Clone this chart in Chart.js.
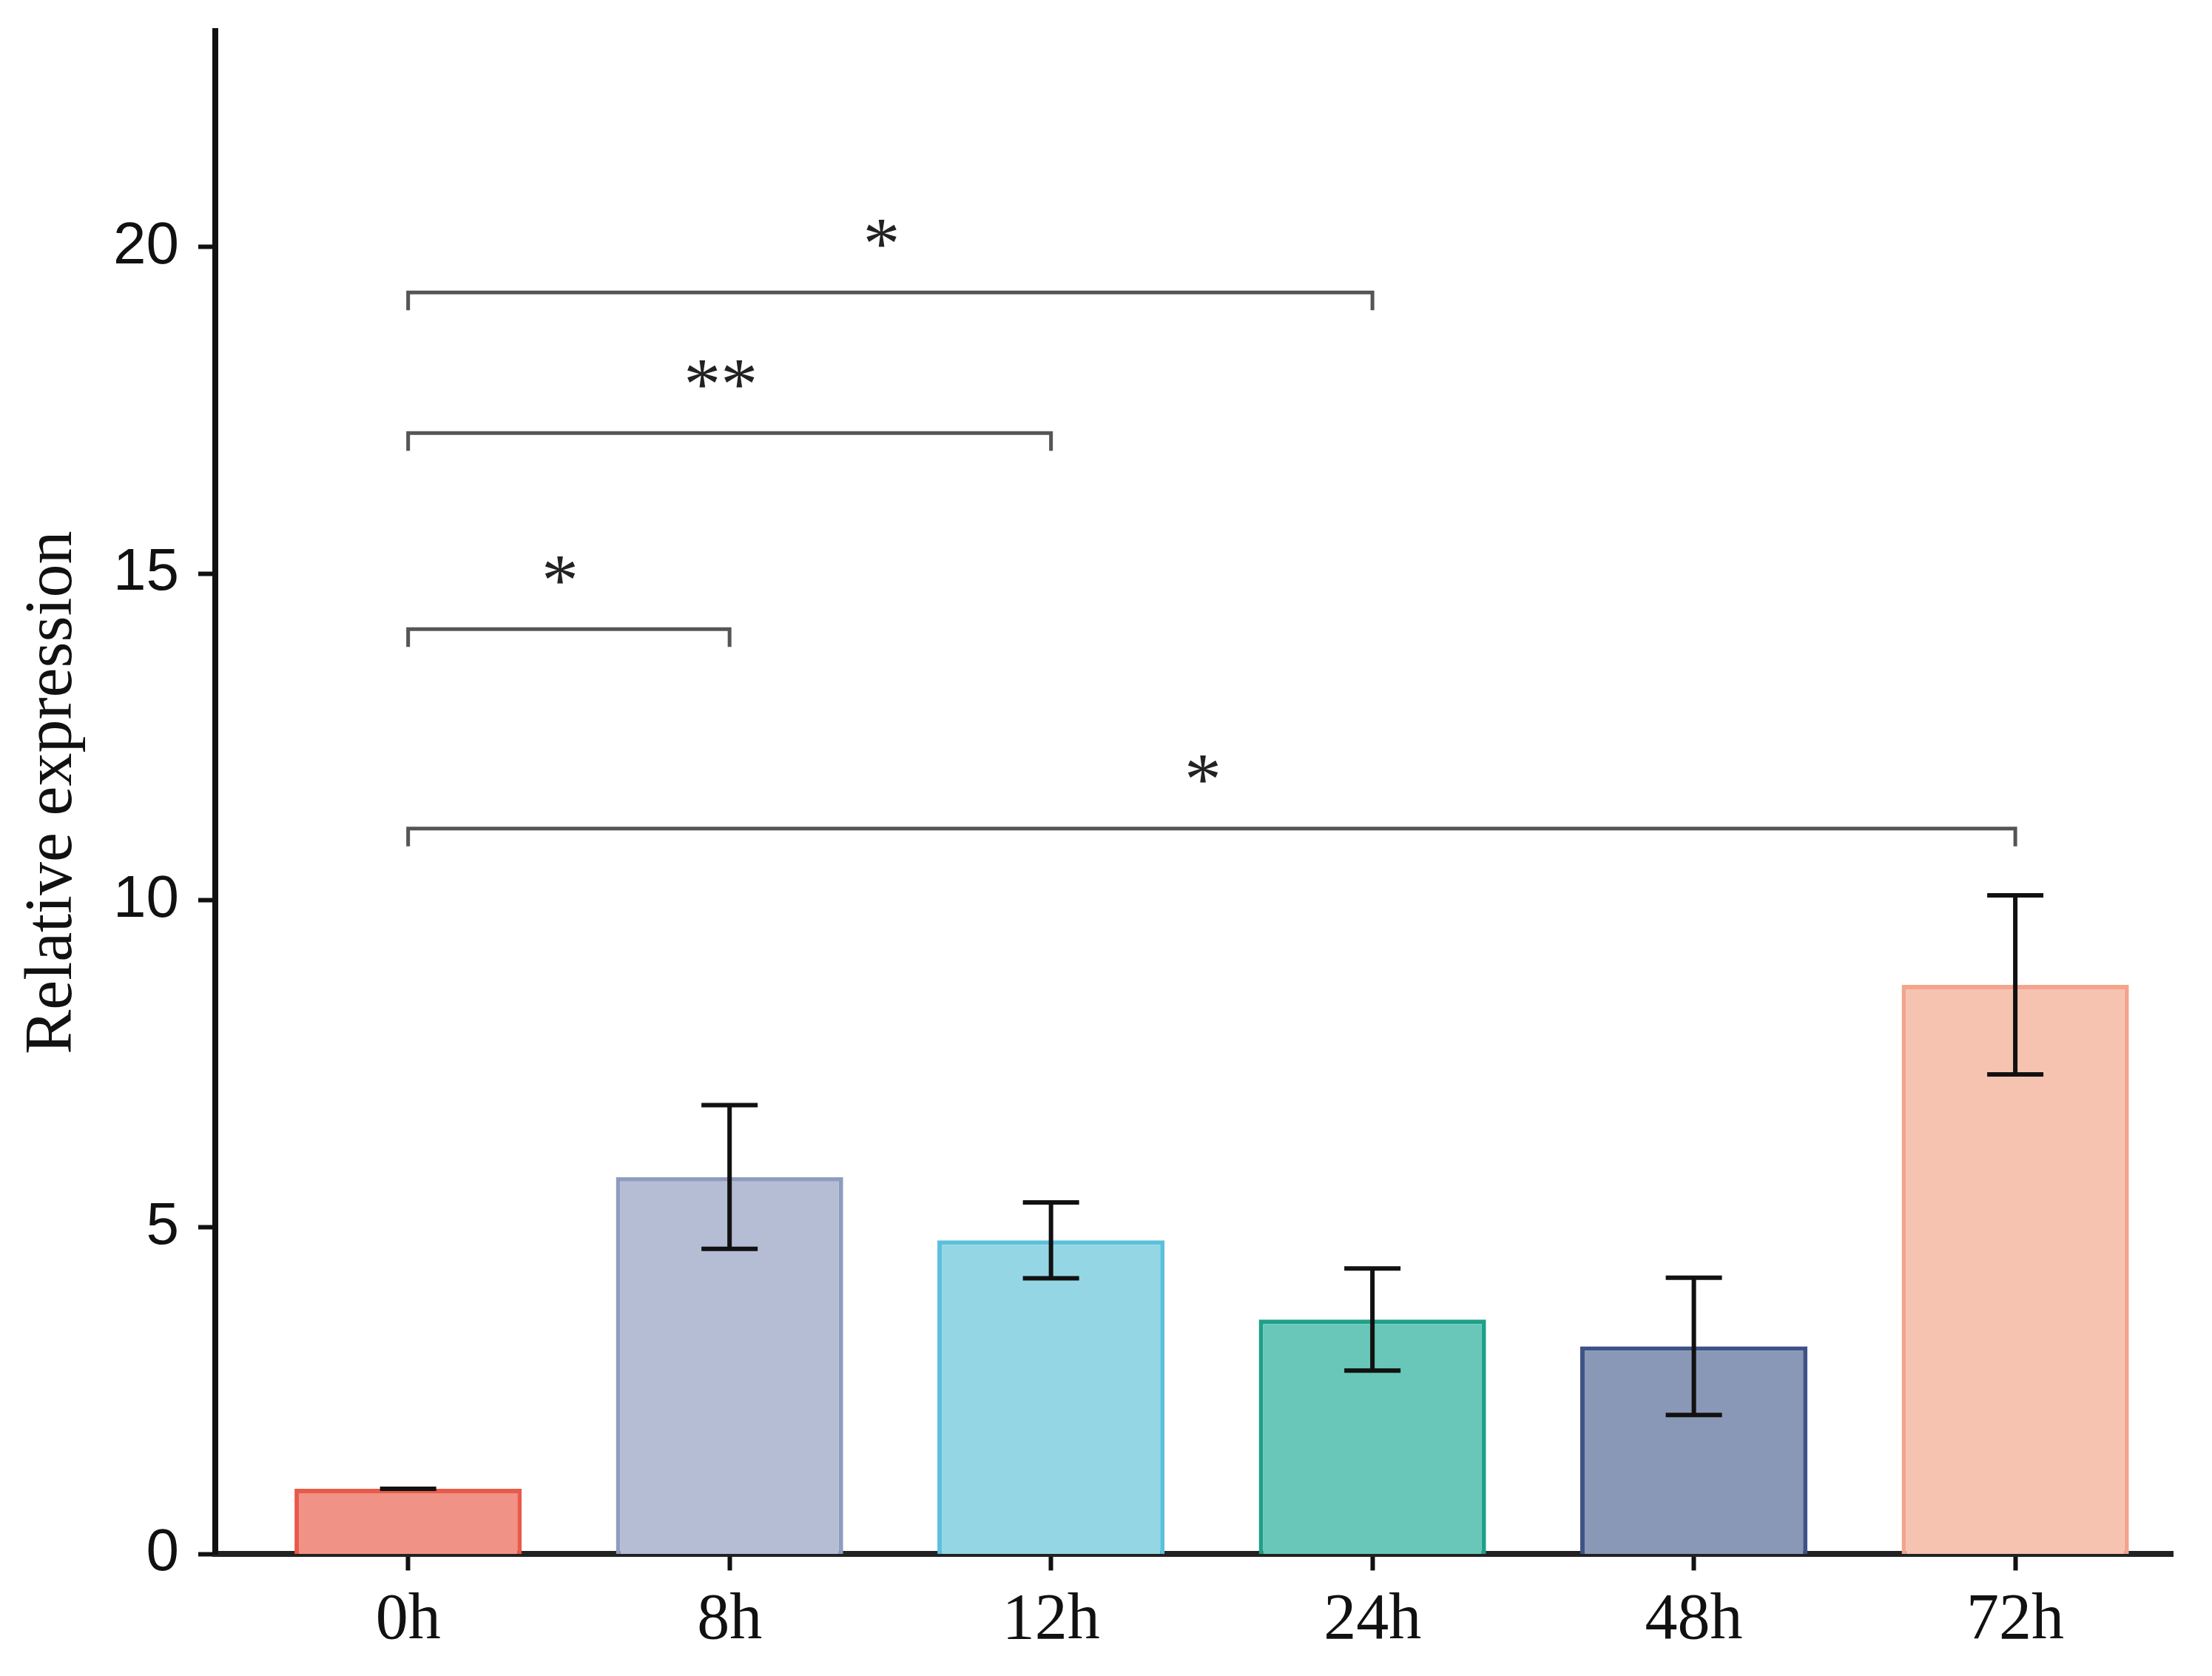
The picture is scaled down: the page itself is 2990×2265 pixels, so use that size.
<!DOCTYPE html>
<html>
<head>
<meta charset="utf-8">
<script src="https://cdn.jsdelivr.net/npm/chart.js@4.4.1/dist/chart.umd.min.js"></script>
<style>
  html, body { margin: 0; padding: 0; background: #fff; }
  #wrap { width: 2990px; height: 2265px; }
</style>
</head>
<body>
<div id="wrap"><canvas id="bars"></canvas></div>
<script>
// data
const categories = ['0h', '8h', '12h', '24h', '48h', '72h'];
const means = [1.0, 5.77, 4.8, 3.59, 3.18, 8.71];
const errors = [0, 1.1, 0.58, 0.78, 1.05, 1.37];
const yTicks = [0, 5, 10, 15, 20];
// significance brackets: from/to category index, height in y units
const brackets = [
    { from: 0, to: 3, y: 19.3, label: '*' },
    { from: 0, to: 2, y: 17.15, label: '**' },
    { from: 0, to: 1, y: 14.15, label: '*' },
    { from: 0, to: 5, y: 11.1, label: '*' }
];

const fills = ['#f09285', '#b4bdd4', '#94d6e4', '#68c7b8', '#8a98b8', '#f6c3b1'];
const borders = ['#e85a4a', '#8e9cc0', '#5bc0dc', '#1fa088', '#3e5286', '#f2a48c'];

const errorBars = {
    id: 'errorBars',
    afterDatasetsDraw(chart) {
        const { ctx, scales: { x, y } } = chart;
        ctx.save();
        ctx.strokeStyle = '#111';
        ctx.lineWidth = 6;
        means.forEach((m, i) => {
            const px = x.getPixelForValue(i);
            const top = y.getPixelForValue(m + errors[i]);
            const bot = y.getPixelForValue(m - errors[i]);
            ctx.beginPath();
            ctx.moveTo(px, top); ctx.lineTo(px, bot);
            ctx.moveTo(px - 38, top); ctx.lineTo(px + 38, top);
            ctx.moveTo(px - 38, bot); ctx.lineTo(px + 38, bot);
            ctx.stroke();
        });
        // brackets
        ctx.strokeStyle = '#555';
        ctx.lineWidth = 5;
        ctx.fillStyle = '#222';
        ctx.font = '100px "Liberation Serif"';
        ctx.textAlign = 'center';
        ctx.textBaseline = 'middle';
        brackets.forEach(b => {
            const x1 = x.getPixelForValue(b.from);
            const x2 = x.getPixelForValue(b.to);
            const py = y.getPixelForValue(b.y);
            ctx.beginPath();
            ctx.moveTo(x1, py + 24); ctx.lineTo(x1, py);
            ctx.lineTo(x2, py); ctx.lineTo(x2, py + 24);
            ctx.stroke();
            ctx.fillText(b.label, (x1 + x2) / 2 - 12, py - 60);
        });
        ctx.restore();
    }
};

new Chart(document.getElementById('bars'), {
    type: 'bar',
    data: {
        datasets: [{
            data: means.map((v, i) => ({ x: i, y: v })),
            backgroundColor: fills,
            borderColor: borders,
            borderWidth: 6,
            barPercentage: 0.707,
            categoryPercentage: 1
        }]
    },
    options: {
        responsive: true,
        maintainAspectRatio: false,
        animation: false,
        layout: { padding: { left: 18, right: 53, top: 42, bottom: 5 } },
        plugins: { legend: { display: false }, tooltip: { enabled: false } },
        scales: {
            x: {
                type: 'linear',
                offset: false,
                min: -0.6,
                max: 5.49,
                afterBuildTicks: axis => {
                    axis.ticks = categories.map((c, i) => ({ value: i }));
                },
                grid: { offset: false, drawOnChartArea: false, tickLength: 22, tickWidth: 6, tickColor: '#111' },
                border: { color: '#222', width: 8 },
                ticks: {
                    autoSkip: false,
                    maxRotation: 0,
                    padding: 16,
                    color: '#111',
                    font: { family: 'Liberation Serif', size: 88 },
                    callback: v => categories[v]
                }
            },
            y: {
                min: 0,
                max: 23.3,
                afterBuildTicks: axis => {
                    axis.ticks = yTicks.map(v => ({ value: v }));
                },
                grid: { drawOnChartArea: false, tickLength: 23, tickWidth: 6, tickColor: '#111' },
                border: { color: '#111', width: 8 },
                ticks: {
                    padding: 26,
                    color: '#111',
                    // small lineHeight keeps the top label from pushing the chart area down
                    font: { family: 'Liberation Sans', size: 80, lineHeight: 0.3 }
                },
                title: {
                    display: true,
                    text: 'Relative expression',
                    color: '#111',
                    font: { family: 'Liberation Serif', size: 90 },
                    padding: { top: 0, bottom: 1 }
                }
            }
        }
    },
    plugins: [errorBars]
});
</script>
</body>
</html>
